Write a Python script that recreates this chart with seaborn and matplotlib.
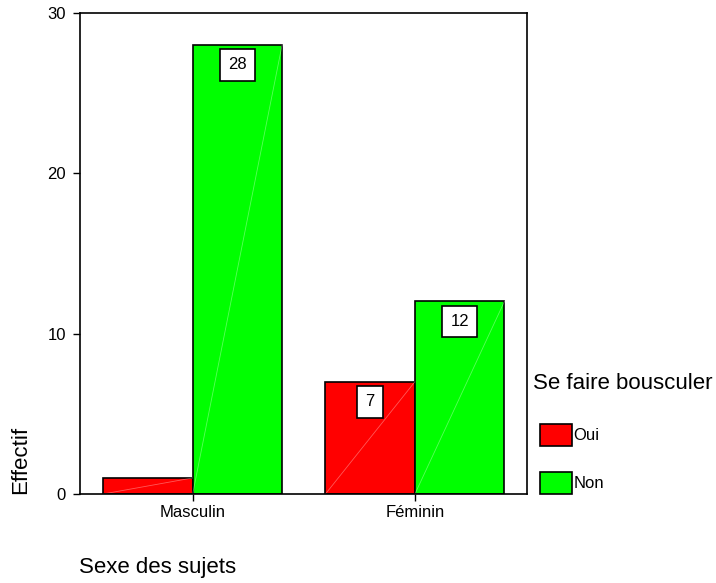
import matplotlib
matplotlib.use('Agg')
import matplotlib.pyplot as plt
import seaborn as sns
import pandas as pd

# Données
sexes = ['Masculin', 'Féminin']
reponses = ['Oui', 'Non']
effectif_oui = [1, 7]
effectif_non = [28, 12]
couleurs = ['#FF0000', '#00FF00']

df = pd.DataFrame({
    'Sexe': sexes * 2,
    'Reponse': ['Oui'] * 2 + ['Non'] * 2,
    'Effectif': effectif_oui + effectif_non,
})

sns.set_style('white')
plt.rcParams['font.family'] = ['Liberation Sans', 'DejaVu Sans']
plt.rcParams['text.color'] = 'black'
plt.rcParams['axes.labelcolor'] = 'black'

fig = plt.figure(figsize=(7.16, 5.83), dpi=100)
ax = fig.add_axes([0.1117, 0.1527, 0.6243, 0.8256])

sns.barplot(data=df, x='Sexe', y='Effectif', hue='Reponse', order=sexes,
            hue_order=reponses, palette=couleurs, width=0.805, saturation=1,
            edgecolor='black', linewidth=1.2, ax=ax)

ax.set_xlim(-0.507, 1.504)
ax.set_ylim(0, 30)
ax.set_yticks([0, 10, 20, 30])
ax.tick_params(axis='both', labelsize=12, length=5, width=1, direction='out',
               left=True, bottom=True, colors='black', labelcolor='black')
ax.tick_params(axis='x', pad=3)
ax.tick_params(axis='y', pad=5)
for s in ax.spines.values():
    s.set_color('black')
    s.set_linewidth(1.2)

# reflet diagonal des barres et étiquettes dans des cadres blancs
for cont in ax.containers:
    for barre in cont:
        x0 = barre.get_x()
        w = barre.get_width()
        v = barre.get_height()
        ax.plot([x0, x0 + w], [0, v], color='white', lw=0.6, alpha=0.35,
                zorder=barre.get_zorder() + 0.1)
        if v < 5:
            continue
        ax.text(x0 + w / 2, v - 1.25, f'{v:.0f}', color='black',
                ha='center', va='center', fontsize=12, zorder=5,
                bbox=dict(boxstyle='square,pad=0.5', facecolor='white',
                          edgecolor='black', linewidth=1.2))

ax.set_xlabel('')
ax.set_ylabel('')
fig.text(0.0293, 0.211, 'Effectif', rotation=90, ha='center',
         va='center', fontsize=16, color='black')
fig.text(0.110, 0.0274, 'Sexe des sujets', ha='left', va='center',
         fontsize=16, color='black')

# légende
fig.text(533 / 716, 0.343, 'Se faire bousculer', ha='left', va='center',
         fontsize=16, color='black')
leg = ax.legend(loc='upper left', bbox_to_anchor=(540 / 716, 1 - 424 / 583),
                bbox_transform=fig.transFigure, frameon=False, fontsize=12,
                handlelength=1.92, handleheight=1.65, handletextpad=0.1,
                labelspacing=1.56, borderpad=0, borderaxespad=0)
for h in leg.legend_handles:
    h.set_edgecolor('black')
    h.set_linewidth(1.2)
for t in leg.get_texts():
    t.set_color('black')

plt.savefig('out.png', dpi=100)
